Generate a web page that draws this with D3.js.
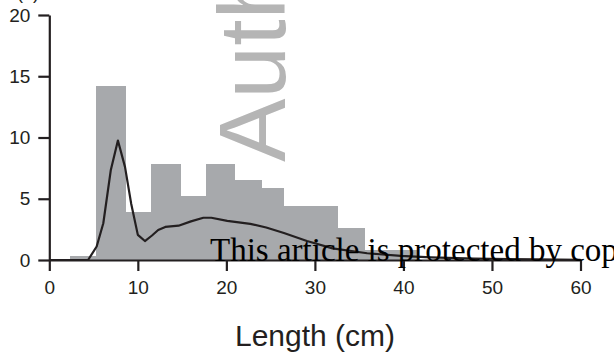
<!DOCTYPE html>
<html>
<head>
<meta charset="utf-8">
<script src="https://cdn.jsdelivr.net/npm/d3@7"></script>
<style>
  body { margin: 0; background: #fff; }
  svg { display: block; }
</style>
</head>
<body>
<div id="chart"></div>
<script>
// histogram bins (cm) and heights
const binEdges = [2.3, 5.3, 8.6, 11.5, 14.8, 17.7, 20.9, 24.0, 26.4, 32.6, 35.6, 41.7];
const binValues = [0.3, 14.2, 3.9, 7.8, 5.2, 7.8, 6.5, 5.9, 4.4, 2.6, 0.8];

// density curve
const curveX = [0, 4.4, 5.35, 6.1, 6.95, 7.75, 8.55, 9.25, 10.0, 10.8, 11.6, 12.3, 13.1, 14.6, 16.0, 17.4, 18.3, 20.1, 22.7, 24.5, 26.5, 29.1, 32.0, 35.9, 39.7, 43.1, 48, 55, 60];
const curveY = [0, 0.02, 1.1, 3.0, 7.35, 9.75, 7.6, 4.6, 2.05, 1.55, 2.0, 2.45, 2.7, 2.8, 3.15, 3.45, 3.45, 3.2, 2.95, 2.65, 2.2, 1.55, 0.95, 0.55, 0.33, 0.22, 0.12, 0.05, 0.02];

const xTicks = [0, 10, 20, 30, 40, 50, 60];
const yTicks = [0, 5, 10, 15, 20];

const width = 614, height = 354;

const svg = d3.select('#chart')
  .append('svg')
  .attr('width', width)
  .attr('height', height);

const x = d3.scaleLinear().domain([0, 60]).range([49.3, 580.5]);
const y = d3.scaleLinear().domain([0, 20]).range([260, 15]);

// label cut off at the very top, as in the source figure
svg.append('text')
  .attr('x', 17)
  .attr('y', -1)
  .attr('font-family', 'Liberation Sans, Arial, sans-serif')
  .attr('font-size', 18)
  .attr('fill', '#231f20')
  .text('(n)');

// watermark
svg.append('text')
  .attr('transform', 'translate(285,162) rotate(-90)')
  .attr('font-family', 'Liberation Sans, Arial, sans-serif')
  .attr('font-size', 95)
  .attr('fill', '#b5b5b5')
  .text('Author Manuscript');

const bins = binValues.map((v, i) => ({x0: binEdges[i], x1: binEdges[i + 1], v}));

svg.append('g')
  .attr('shape-rendering', 'crispEdges')
  .selectAll('rect')
  .data(bins)
  .enter()
  .append('rect')
  .attr('x', d => x(d.x0))
  .attr('width', d => x(d.x1) - x(d.x0) + 0.5)
  .attr('y', d => y(d.v))
  .attr('height', d => y(0) - y(d.v))
  .attr('fill', '#a7a9ac');

const line = d3.line()
  .x(d => x(d[0]))
  .y(d => y(d[1]));

svg.append('path')
  .datum(curveX.map((v, i) => [v, curveY[i]]))
  .attr('d', line)
  .attr('fill', 'none')
  .attr('stroke', '#231f20')
  .attr('stroke-width', 2.2)
  .attr('stroke-linejoin', 'round');

const yAxis = svg.append('g')
  .attr('transform', `translate(${x(0)},0)`)
  .call(d3.axisLeft(y).tickValues(yTicks).tickSize(11).tickSizeOuter(0).tickPadding(8));

const xAxis = svg.append('g')
  .attr('transform', `translate(0,${y(0)})`)
  .call(d3.axisBottom(x).tickValues(xTicks).tickSize(11).tickSizeOuter(0).tickPadding(10));

[xAxis, yAxis].forEach(g => {
  g.select('.domain').attr('stroke', '#231f20').attr('stroke-width', 2.2);
  g.selectAll('.tick line').attr('stroke', '#231f20').attr('stroke-width', 2.2);
  g.selectAll('.tick text')
    .attr('fill', '#231f20')
    .attr('font-family', 'Liberation Sans, Arial, sans-serif')
    .attr('font-size', 19);
});

svg.append('text')
  .attr('x', 315)
  .attr('y', 346)
  .attr('text-anchor', 'middle')
  .attr('font-family', 'Liberation Sans, Arial, sans-serif')
  .attr('font-size', 30)
  .attr('fill', '#231f20')
  .text('Length (cm)');

// copyright notice over the plot
svg.append('text')
  .attr('x', 210)
  .attr('y', 261)
  .attr('font-family', 'Liberation Serif, Times New Roman, serif')
  .attr('font-size', 33)
  .attr('fill', '#000')
  .text('This article is protected by copyright. All rights reserved');
</script>
</body>
</html>
